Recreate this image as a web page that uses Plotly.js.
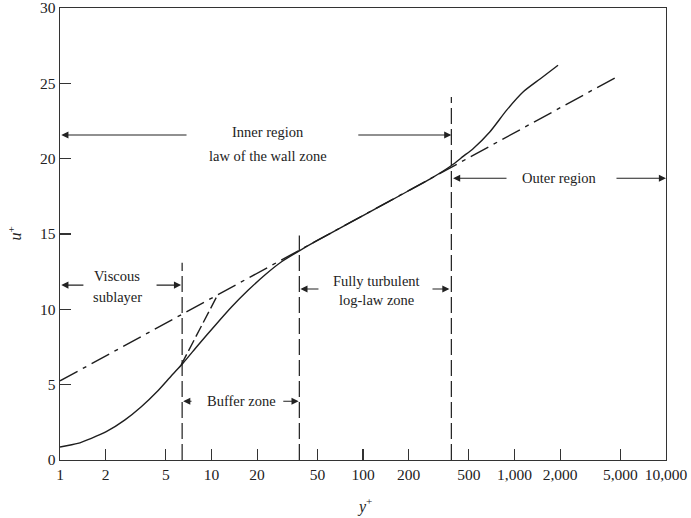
<!DOCTYPE html>
<html>
<head>
<meta charset="utf-8">
<script src="https://cdn.plot.ly/plotly-3.0.1.min.js"></script>
<style>html,body{margin:0;padding:0;background:#fff}#chart{width:691px;height:518px}</style>
</head>
<body>
<div id="chart"></div>
<script>
// Velocity profile (solid curve)
const profileYPlus = [1, 1.31, 1.61, 2.02, 2.67, 3.44, 4.43, 5.42, 6.48, 8.2, 10.56, 13.6, 17.5, 22.5, 29, 37.5, 50, 70, 100, 150, 200, 280, 384, 458, 535, 689, 888, 1143, 1474, 1938];
const profileUPlus = [0.86, 1.1, 1.44, 1.88, 2.65, 3.54, 4.6, 5.58, 6.42, 7.65, 8.93, 10.17, 11.28, 12.28, 13.16, 13.85, 14.57, 15.37, 16.22, 17.18, 17.87, 18.68, 19.55, 20.15, 20.68, 21.79, 23.22, 24.44, 25.29, 26.2];
// Log law (dash-dot line)
const logLawYPlus = [1, 4677];
const logLawUPlus = [5.25, 25.4];
// Linear sublayer u+ = y+ (dashed)
const linearYPlus = [6.3, 10.9];
const linearUPlus = [6.3, 10.9];
// Zone boundaries (vertical dashed lines)
const boundaryYPlus = [6.4, 38, 383];
const boundaryTopUPlus = [13.1, 14.9, 24.1];
// Axis ticks
const xTickVals = [1, 2, 5, 10, 20, 50, 100, 200, 500, 1000, 2000, 5000, 10000];
const xTickText = ['1', '2', '5', '10', '20', '50', '100', '200', '500', '1,000', '2,000', '5,000', '10,000'];
const yTickVals = [0, 5, 10, 15, 20, 25, 30];
// Labels
const labelTexts = ['Inner region', 'law of the wall zone', 'Outer region', 'Viscous', 'sublayer', 'Buffer zone', 'Fully turbulent', 'log-law zone'];
const labelYPlus = [23.6, 23.6, 1967, 2.38, 2.38, 15.7, 123, 123];
const labelUPlus = [21.75, 20.2, 18.7, 12.2, 10.84, 3.9, 11.88, 10.6];
// Arrows: tail y+ -> head y+ at u+
const arrowTailYPlus = [7.0, 91, 906, 4605, 1.46, 4.24, 7.55, 29.1, 52, 281];
const arrowHeadYPlus = [1.02, 383, 393, 10000, 1.02, 6.3, 6.5, 37.6, 38.6, 372];
const arrowUPlus = [21.57, 21.57, 18.7, 18.7, 11.61, 11.61, 3.9, 3.9, 11.35, 11.35];

const lineColor = '#1e1e1e';
const font = 'Liberation Serif, Times New Roman, serif';
const L = Math.log10;

const traces = [
  {x: profileYPlus, y: profileUPlus, mode: 'lines', line: {color: lineColor, width: 1.4, shape: 'spline', smoothing: 0.6}, hoverinfo: 'skip'},
  {x: logLawYPlus, y: logLawUPlus, mode: 'lines', line: {color: lineColor, width: 1.4, dash: '20px,6px,4px,6px'}, hoverinfo: 'skip'},
  {x: linearYPlus, y: linearUPlus, mode: 'lines', line: {color: lineColor, width: 1.4, dash: '12px,4px'}, hoverinfo: 'skip'}
];
boundaryYPlus.forEach((b, i) => {
  traces.push({x: [b, b], y: [0, boundaryTopUPlus[i]], mode: 'lines', line: {color: lineColor, width: 1.2, dash: '16px,5px'}, hoverinfo: 'skip'});
});

const annotations = [];
labelTexts.forEach((t, i) => {
  annotations.push({x: L(labelYPlus[i]), y: labelUPlus[i], xref: 'x', yref: 'y', text: t, showarrow: false,
    font: {family: font, size: 14.5, color: '#222'}, xanchor: 'center', yanchor: 'middle'});
});
arrowTailYPlus.forEach((t, i) => {
  annotations.push({x: L(arrowHeadYPlus[i]), y: arrowUPlus[i], ax: L(t), ay: arrowUPlus[i], xref: 'x', yref: 'y', axref: 'x', ayref: 'y',
    text: '', showarrow: true, arrowhead: 2, arrowsize: 1.3, arrowwidth: 1.1, arrowcolor: '#222', standoff: 0, startstandoff: 0});
});
annotations.push({xref: 'paper', yref: 'paper', x: -0.075, y: 0.5, text: '<i>u</i><sup>+</sup>', showarrow: false,
  font: {family: font, size: 16, color: '#222'}, textangle: -90, xanchor: 'center', yanchor: 'middle'});
annotations.push({xref: 'paper', yref: 'paper', x: 0.503, y: -0.1, text: '<i>y</i><sup>+</sup>', showarrow: false,
  font: {family: font, size: 16, color: '#222'}, xanchor: 'center', yanchor: 'middle'});

const layout = {
  width: 691, height: 518,
  margin: {l: 60, r: 25, t: 8, b: 58},
  paper_bgcolor: '#fff', plot_bgcolor: '#fff',
  showlegend: false,
  xaxis: {type: 'log', range: [0, 4], tickvals: xTickVals, ticktext: xTickText, ticks: 'inside', ticklen: 11, tickwidth: 1.2,
    tickcolor: '#333', showline: true, linecolor: '#333', linewidth: 1.3, mirror: true, showgrid: false, zeroline: false,
    tickfont: {family: font, size: 15.5, color: '#222'}, ticklabeloverflow: 'allow', fixedrange: true},
  yaxis: {range: [0, 30], tickvals: yTickVals, ticks: 'inside', ticklen: 11, tickwidth: 1.2, tickcolor: '#333',
    showline: true, linecolor: '#333', linewidth: 1.3, mirror: true, showgrid: false, zeroline: false,
    tickfont: {family: font, size: 15.5, color: '#222'}, ticklabeloverflow: 'allow', fixedrange: true},
  annotations: annotations
};

Plotly.newPlot('chart', traces, layout, {displayModeBar: false, staticPlot: true});
</script>
</body>
</html>
